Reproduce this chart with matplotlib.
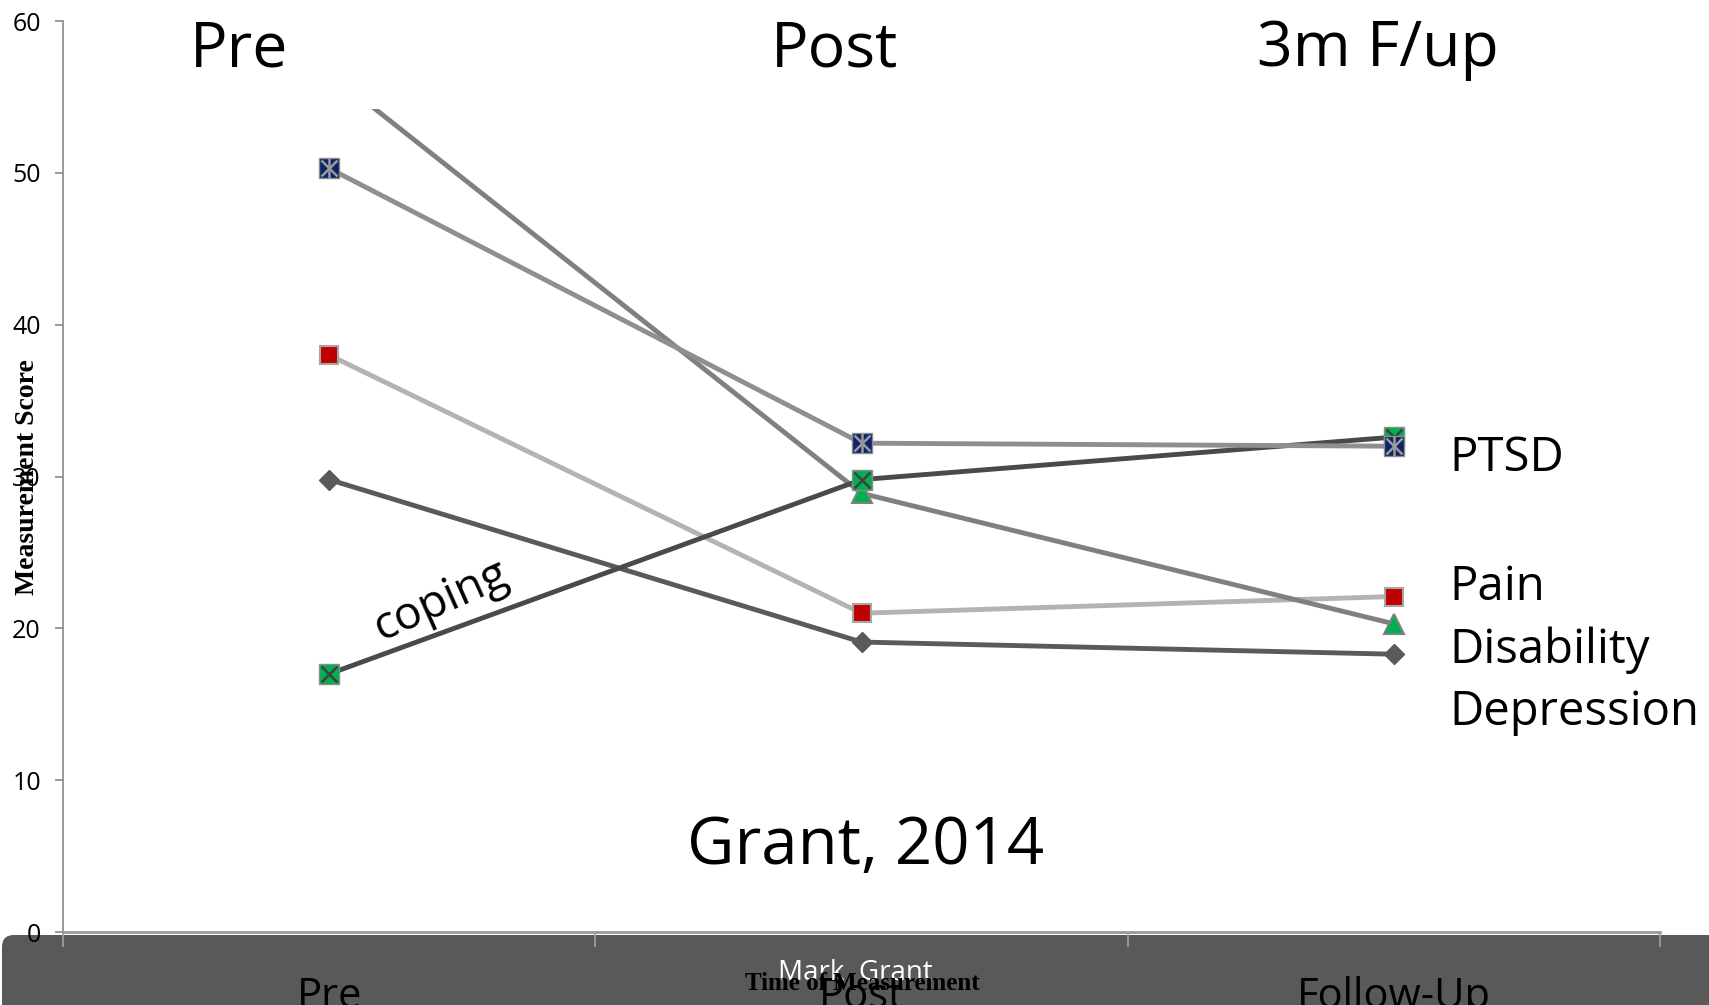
import matplotlib.pyplot as plt
from matplotlib.patches import FancyBboxPatch, Rectangle

# data
times = ["Pre", "Post", "Follow-Up"]
ptsd = [50.3, 32.2, 32.0]
pain = [38.0, 21.0, 22.1]
disability = [56.6, 28.9, 20.3]
depression = [29.8, 19.1, 18.3]
coping = [17.0, 29.8, 32.6]

phase_labels = ["Pre", "Post", "3m F/up"]
series_names = ["PTSD", "Pain", "Disability", "Depression"]

sans = "Open Sans"
serif = "Liberation Serif"

fig = plt.figure(figsize=(17.09, 10.05), dpi=100)
ax = fig.add_axes([0.0369, 0.0726, 0.9344, 0.9064])
ax.set_zorder(2)

# dark band at the bottom of the slide
band = FancyBboxPatch((0.02, -0.5), 18.0, 1.2, boxstyle="round,pad=0,rounding_size=0.12",
                      transform=fig.dpi_scale_trans, facecolor="#595959", edgecolor="none", zorder=0)
fig.add_artist(band)

x = range(len(times))
lw = 3.5

ax.plot(x, depression, color="#5a5a5a", lw=lw, marker="D", ms=10.5,
        mfc="#5a5a5a", mec="#5a5a5a", zorder=3)
ax.plot(x, pain, color="#b3b3b3", lw=lw, marker="s", ms=13,
        mfc="#c00000", mec="#a6a6a6", mew=1.5, zorder=3)
ax.plot(x, disability, color="#808080", lw=lw, marker="^", ms=14,
        mfc="#00b050", mec="#808080", mew=1.5, zorder=3)
ax.plot(x, coping, color="#4a4a4a", lw=lw, marker="s", ms=15,
        mfc="#00b050", mec="#8c8c8c", mew=1.0, zorder=4)
ax.plot(x, coping, ls="none", marker="x", ms=12, mec="#404040", mew=1.8, zorder=4)
ax.plot(x, ptsd, color="#8f8f8f", lw=lw, marker="s", ms=14.5,
        mfc="#0c2466", mec="#8c8c8c", mew=1.0, zorder=5)
ax.plot(x, ptsd, ls="none", marker="x", ms=11, mec="#9a9a9a", mew=1.8, zorder=5)
ax.plot(x, ptsd, ls="none", marker="|", ms=14, mec="#9a9a9a", mew=1.8, zorder=5)

# white box at the top hides the start of the disability line
ax.add_patch(Rectangle((-0.5, 54.2), 1.5, 6.0, facecolor="white", edgecolor="none", zorder=6))

ax.set_xlim(-0.5, 2.5)
ax.set_ylim(0, 60)
ax.set_yticks(range(0, 61, 10))
ax.set_xticks(list(x))
ax.set_xticklabels(times, fontsize=30, family=sans, color="black")
ax.set_xticks([-0.5, 0.5, 1.5, 2.5], minor=True)
ax.tick_params(axis="x", which="major", length=0, pad=32)
ax.tick_params(axis="x", which="minor", length=11, width=1.2, color="#a0a0a0")
ax.tick_params(axis="y", length=6, width=1.2, color="#888888", pad=10)
ax.set_yticklabels([str(v) for v in range(0, 61, 10)], family=sans, fontsize=18)

for side in ["top", "right"]:
    ax.spines[side].set_visible(False)
ax.spines["left"].set_color("#888888")
ax.spines["left"].set_linewidth(1.2)
ax.spines["bottom"].set_color("#999999")
ax.spines["bottom"].set_linewidth(2.0)
for sp in ax.spines.values():
    sp.set_zorder(7)

ax.set_ylabel("Measurement Score", family=serif, fontweight="bold", fontsize=20)
ax.yaxis.set_label_coords(-0.0145, 0.5)

# slide annotations
phase_x = [-0.17, 0.95, 1.97]
for xp, lab in zip(phase_x, phase_labels):
    ax.text(xp, 1 - 45 / 911, lab, transform=ax.get_xaxis_transform(),
            ha="center", va="baseline", fontsize=45, family=sans, zorder=8)

label_y = [458, 587, 650, 712]
for name, yy in zip(series_names, label_y):
    fig.text(1449 / 1709, 1 - yy / 1005, name, ha="left", va="center",
             fontsize=34, family=sans, zorder=8)

ax.text(0.21, 21.8, "coping", rotation=24, ha="center", va="center",
        fontsize=33, family=sans, zorder=8)
fig.text(866 / 1709, 1 - 864 / 1005, "Grant, 2014", ha="center", va="baseline",
         fontsize=47, family=sans, zorder=8)

fig.text(855 / 1709, 1 - 973 / 1005, "Mark  Grant", ha="center", va="center",
         fontsize=20, family=sans, color="white", zorder=3)
fig.text(862 / 1709, 1 - 983 / 1005, "Time of Measurement", ha="center", va="center",
         fontsize=18, family=serif, fontweight="bold", color="black", zorder=4)

fig.savefig("out.png", dpi=100)
